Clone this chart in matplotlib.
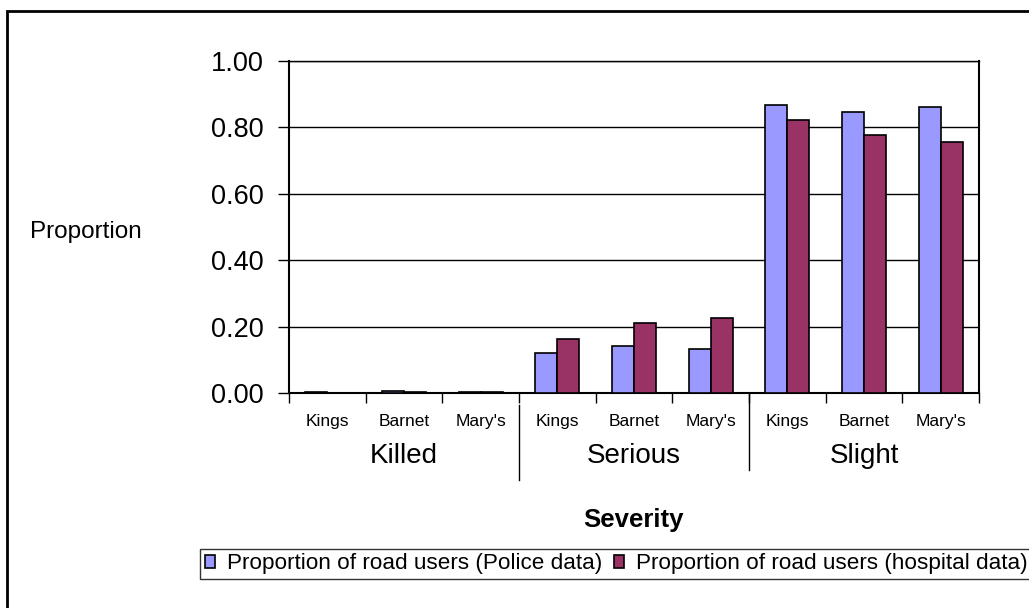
import numpy as np
import matplotlib
matplotlib.use('Agg')
import matplotlib.pyplot as plt
from matplotlib.patches import Rectangle
from matplotlib.transforms import blended_transform_factory

plt.rcParams['font.family'] = ['Liberation Sans', 'DejaVu Sans']

# data
groups = ['Killed', 'Serious', 'Slight']
hospitals = ['Kings', 'Barnet', "Mary's"]
police = [0.004, 0.005, 0.004, 0.120, 0.142, 0.132, 0.867, 0.847, 0.861]
hospital = [0.001, 0.004, 0.004, 0.162, 0.210, 0.227, 0.823, 0.776, 0.757]
series_names = ['Proportion of road users (Police data)',
                'Proportion of road users (hospital data)']
yticks = [0.0, 0.2, 0.4, 0.6, 0.8, 1.0]

W, H = 1029, 608
fig = plt.figure(figsize=(W / 100, H / 100), dpi=100)
ax = fig.add_axes([289 / W, 1 - 393 / H, (979 - 289) / W, (393 - 61) / H])

n = len(police)
x = np.arange(n) + 0.5
bw = 0.287
ax.bar(x - bw / 2, police, bw, color='#9999FF', edgecolor='black', linewidth=1.2,
       label=series_names[0], zorder=3)
ax.bar(x + bw / 2, hospital, bw, color='#993366', edgecolor='black', linewidth=1.2,
       label=series_names[1], zorder=3)

ax.set_xlim(0, n)
ax.set_ylim(0, 1.0)
ax.set_yticks(yticks)
ax.set_yticklabels([f'{v:.2f}' for v in yticks], fontsize=19.5)
ax.yaxis.grid(True, color='black', linewidth=1)
ax.set_axisbelow(True)
ax.tick_params(axis='y', direction='out', length=8, width=1, pad=10)

ax.set_xticks(x)
ax.set_xticklabels(hospitals * len(groups), fontsize=12.5)
ax.tick_params(axis='x', which='major', length=0, pad=15)
ax.set_xticks(np.arange(n + 1), minor=True)
ax.tick_params(axis='x', which='minor', direction='out', length=7, width=1)

for side in ['left', 'bottom', 'right']:
    ax.spines[side].set_linewidth(1.5)
ax.spines['top'].set_linewidth(1)

# group labels and separators
tr = blended_transform_factory(ax.transData, ax.transAxes)
for i, g in enumerate(groups):
    ax.text(i * 3 + 1.5, -0.19, g, transform=tr, ha='center', va='center', fontsize=20)
ax.plot([3, 3], [-0.036, -0.262], transform=tr, color='black', lw=1, clip_on=False)
ax.plot([6, 6], [0.0, -0.232], transform=tr, color='black', lw=1, clip_on=False)

fig.text(30 / W, 1 - 232 / H, 'Proportion', ha='left', va='center', fontsize=17.5)
fig.text(633 / W, 1 - 520 / H, 'Severity', ha='center', va='center',
         fontsize=18.5, fontweight='bold')

leg = fig.legend(loc='upper left', bbox_to_anchor=(200 / W, 1 - 549 / H), ncol=2,
                 fontsize=16.2, frameon=True, fancybox=False, edgecolor='black',
                 borderaxespad=0, handlelength=0.45, handleheight=0.45,
                 handletextpad=0.55, columnspacing=0.5, borderpad=0.2)
leg.get_frame().set_linewidth(1)

# chart border
fig.add_artist(Rectangle((7 / W, -0.1), 1.2, 1.1 - 11 / H, transform=fig.transFigure,
                         fill=False, edgecolor='black', linewidth=2))

fig.savefig('out.png', dpi=100)
